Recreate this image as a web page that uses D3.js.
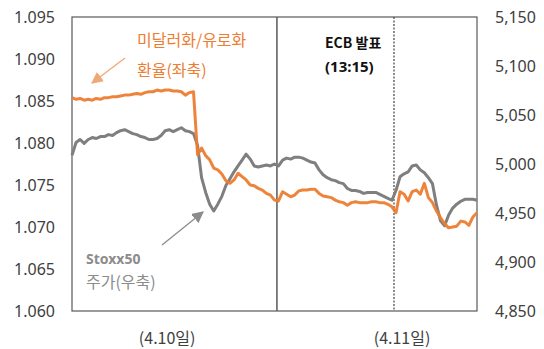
<!DOCTYPE html>
<html><head><meta charset="utf-8">
<script src="https://cdn.jsdelivr.net/npm/d3@7"></script>
<style>
body{margin:0;background:#fff;}
svg{display:block;font-family:"Noto Sans","Noto Sans CJK KR",sans-serif;}
</style></head>
<body>
<svg id="c" width="544" height="349"></svg>
<script>
// EUR/USD exchange rate (left axis)
const fxRate = [1.0854,1.0852,1.0853,1.0851,1.0852,1.0851,1.0853,1.0852,1.0854,1.0854,
1.0855,1.0855,1.0856,1.0857,1.0857,1.0858,1.0859,1.0858,1.0860,1.0861,
1.0861,1.0863,1.0862,1.0863,1.0863,1.0862,1.0862,1.0861,1.0857,1.0860,
1.0861,1.0786,1.0794,1.0785,1.0780,1.0770,1.0768,1.0763,1.0755,1.0752,
1.0756,1.0764,1.0760,1.0756,1.0750,1.0749,1.0746,1.0744,1.0740,1.0738,
1.0732,1.0731,1.0742,1.0739,1.0736,1.0738,1.0743,1.0744,1.0744,1.0745,
1.0745,1.0740,1.0737,1.0736,1.0735,1.0732,1.0730,1.0729,1.0726,1.0729,
1.0730,1.0729,1.0729,1.0729,1.0730,1.0730,1.0729,1.0729,1.0727,1.0724,
1.0717,1.0742,1.0739,1.0731,1.0742,1.0744,1.0739,1.0752,1.0735,1.0729,
1.0719,1.0711,1.0704,1.0699,1.0700,1.0701,1.0707,1.0706,1.0702,1.0712,1.0717];
// Stoxx50 index (right axis)
const stoxx50 = [5009,5022,5025,5021,5025,5027,5026,5028,5028,5030,
5029,5032,5034,5035,5033,5031,5030,5028,5027,5025,
5025,5026,5029,5034,5035,5033,5035,5037,5034,5033,
5031,5019,4986,4971,4959,4952,4959,4967,4978,4985,
4992,4998,5004,5010,5005,4998,4997,4998,4999,4998,
5000,4998,5004,5006,5005,5007,5007,5006,5004,5002,
5001,4994,4989,4986,4984,4983,4981,4980,4975,4973,
4973,4972,4970,4971,4971,4971,4969,4967,4965,4963,
4973,4987,4990,4992,4998,4999,4994,4991,4986,4980,
4958,4942,4937,4948,4955,4959,4962,4964,4964,4964,4963];
const leftTicks = [1.060,1.065,1.070,1.075,1.080,1.085,1.090,1.095];
const rightTicks = [4850,4900,4950,5000,5050,5100,5150];
const dayLabels = ["(4.10일)","(4.11일)"];
const dayLabelPos = [23.5,81.5];    // in observation index units
const dayBreak = [50.6];            // index where 4.11 starts
const ecbTime = [79.5];             // index of ECB announcement (13:15)

const svg = d3.select("#c");
const L=72, R=477, T=17, B=311;
const x = d3.scaleLinear().domain([0, fxRate.length-1]).range([L,R]);
const yL = d3.scaleLinear().domain([1.060,1.095]).range([B,T]);
const yR = d3.scaleLinear().domain([4850,5150]).range([B,T]);

// axes
const axL = svg.append("g").attr("transform",`translate(${L},0)`)
  .call(d3.axisLeft(yL).tickValues(leftTicks).tickFormat(d3.format(".3f")).tickSize(0).tickPadding(17));
const axR = svg.append("g").attr("transform",`translate(${R},0)`)
  .call(d3.axisRight(yR).tickValues(rightTicks).tickFormat(d3.format(",")).tickSize(0).tickPadding(18));
[axL,axR].forEach(a=>{a.select(".domain").remove();
  a.selectAll("text").attr("font-size",16).attr("fill","#404040").attr("font-family","Noto Sans, sans-serif");});

// frame
svg.append("rect").attr("x",L).attr("y",T).attr("width",R-L).attr("height",B-T)
  .attr("fill","none").attr("stroke","#595959").attr("stroke-width",1.2);

// day break and ECB lines
svg.selectAll(".brk").data(dayBreak).enter().append("line")
  .attr("x1",d=>x(d)).attr("x2",d=>x(d)).attr("y1",T).attr("y2",B)
  .attr("stroke","#595959").attr("stroke-width",1.5);
svg.selectAll(".ecb").data(ecbTime).enter().append("line")
  .attr("x1",d=>x(d)).attr("x2",d=>x(d)).attr("y1",T).attr("y2",B)
  .attr("stroke","#404040").attr("stroke-width",1.2).attr("stroke-dasharray","2,1.5");

// lines
const lineR = d3.line().x((d,i)=>x(i)).y(d=>yR(d));
const lineL = d3.line().x((d,i)=>x(i)).y(d=>yL(d));
svg.append("path").datum(stoxx50).attr("d",lineR).attr("fill","none")
  .attr("stroke","#7F7F7F").attr("stroke-width",3).attr("stroke-linejoin","round");
svg.append("path").datum(fxRate).attr("d",lineL).attr("fill","none")
  .attr("stroke","#ED7D31").attr("stroke-width",3).attr("stroke-linejoin","round").attr("opacity",0.95);

// arrow markers
const defs = svg.append("defs");
function mk(id,col){defs.append("marker").attr("id",id).attr("viewBox","0 0 10 10").attr("refX",9).attr("refY",5)
  .attr("markerWidth",9).attr("markerHeight",9).attr("orient","auto")
  .append("path").attr("d","M0,0 L10,5 L0,10 z").attr("fill",col);}
mk("ao","#EFA878"); mk("ag","#8C8C8C");
svg.append("line").attr("x1",125).attr("y1",58).attr("x2",92).attr("y2",83)
  .attr("stroke","#EFA878").attr("stroke-width",1.3).attr("marker-end","url(#ao)");
svg.append("line").attr("x1",162).attr("y1",245).attr("x2",203).attr("y2",212)
  .attr("stroke","#8C8C8C").attr("stroke-width",1.3).attr("marker-end","url(#ag)");

// annotations
const cjk = "Noto Sans CJK KR, sans-serif";
svg.append("text").attr("x",137).attr("y",46).attr("font-size",16).attr("fill","#ED7D31").attr("font-family",cjk).text("미달러화/유로화");
svg.append("text").attr("x",137).attr("y",76).attr("font-size",16).attr("fill","#ED7D31").attr("font-family",cjk).text("환율(좌축)");
svg.append("text").attr("x",86).attr("y",264).attr("font-size",14).attr("font-weight","bold").attr("fill","#8C8C8C").text("Stoxx50");
svg.append("text").attr("x",86).attr("y",288).attr("font-size",16).attr("fill","#8C8C8C").attr("font-family",cjk).text("주가(우축)");
svg.append("text").attr("x",325).attr("y",48).attr("font-size",14).attr("font-weight","bold").attr("fill","#111").attr("font-family",cjk).text("ECB 발표");
svg.append("text").attr("x",325).attr("y",72).attr("font-size",15).attr("font-weight","bold").attr("fill","#111").text("(13:15)");

// day labels
svg.selectAll(".dl").data(dayLabels).enter().append("text")
  .attr("x",(d,i)=>x(dayLabelPos[i])).attr("y",344).attr("text-anchor","middle")
  .attr("font-size",16).attr("fill","#404040").attr("font-family",cjk).text(d=>d);
</script>
</body></html>
